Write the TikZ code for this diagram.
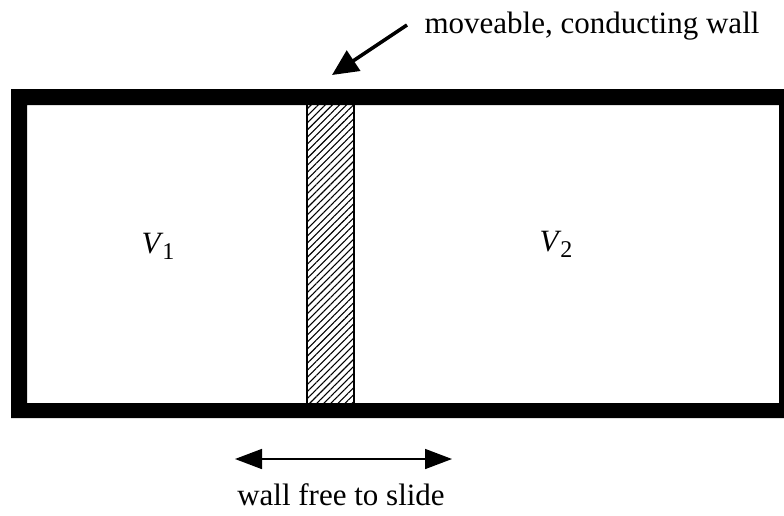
\documentclass[tikz,border=0pt]{standalone}
\usepackage{fontspec}
\setmainfont{Liberation Serif}
\usetikzlibrary{arrows.meta,patterns.meta}
\definecolor{negroT}{HTML}{000000}
\newcommand{\paredCaja}{%
  \fill[negroT,even odd rule] (11,89) rectangle (792,418)   % borde exterior
                              (27,105) rectangle (779,403);  % hueco interior
}
\newcommand{\volSub}[1]{\textit{V}\kern-1pt\raisebox{-6pt}{\fontsize{24}{26}\selectfont #1}}
\tikzset{
  etiqueta/.style={font=\fontsize{31}{35}\selectfont,inner sep=0pt},
  flechaGorda/.style={line width=3.5pt,-{Triangle[length=26pt,width=24pt]}},
  flechaDoble/.style={line width=1.6pt,{Triangle[length=27pt,width=20pt]}-{Triangle[length=27pt,width=20pt]}},
}

\begin{document}
\begin{tikzpicture}[x=1pt,y=-1pt]
      \useasboundingbox (0,0) rectangle (784,515);
      \clip (0,0) rectangle (784,515);
      \paredCaja
      % pared movil
      \draw[line width=1.8pt,pattern={Lines[angle=45,distance=5pt,line width=1.1pt]}] (307,104) rectangle (354,404);
      \node[etiqueta,anchor=base] (vol1) at (158,253) {\volSub{1}};
      \node[etiqueta,anchor=base] (vol2) at (556,251) {\volSub{2}};
      \node[etiqueta,anchor=base] (muro) at (592,33) {moveable, conducting wall};
      \node[etiqueta,anchor=base] (desliz) at (341,505) {wall free to slide};
      \coordinate (colaA) at (407,25);
      \coordinate (puntaA) at (332,75);
      \coordinate (izq) at (235,459);
      \coordinate (der) at (452,459);
      \draw[flechaGorda] (colaA) -- (puntaA);
      \draw[flechaDoble] (izq) -- (der);
    \end{tikzpicture}
\end{document}
